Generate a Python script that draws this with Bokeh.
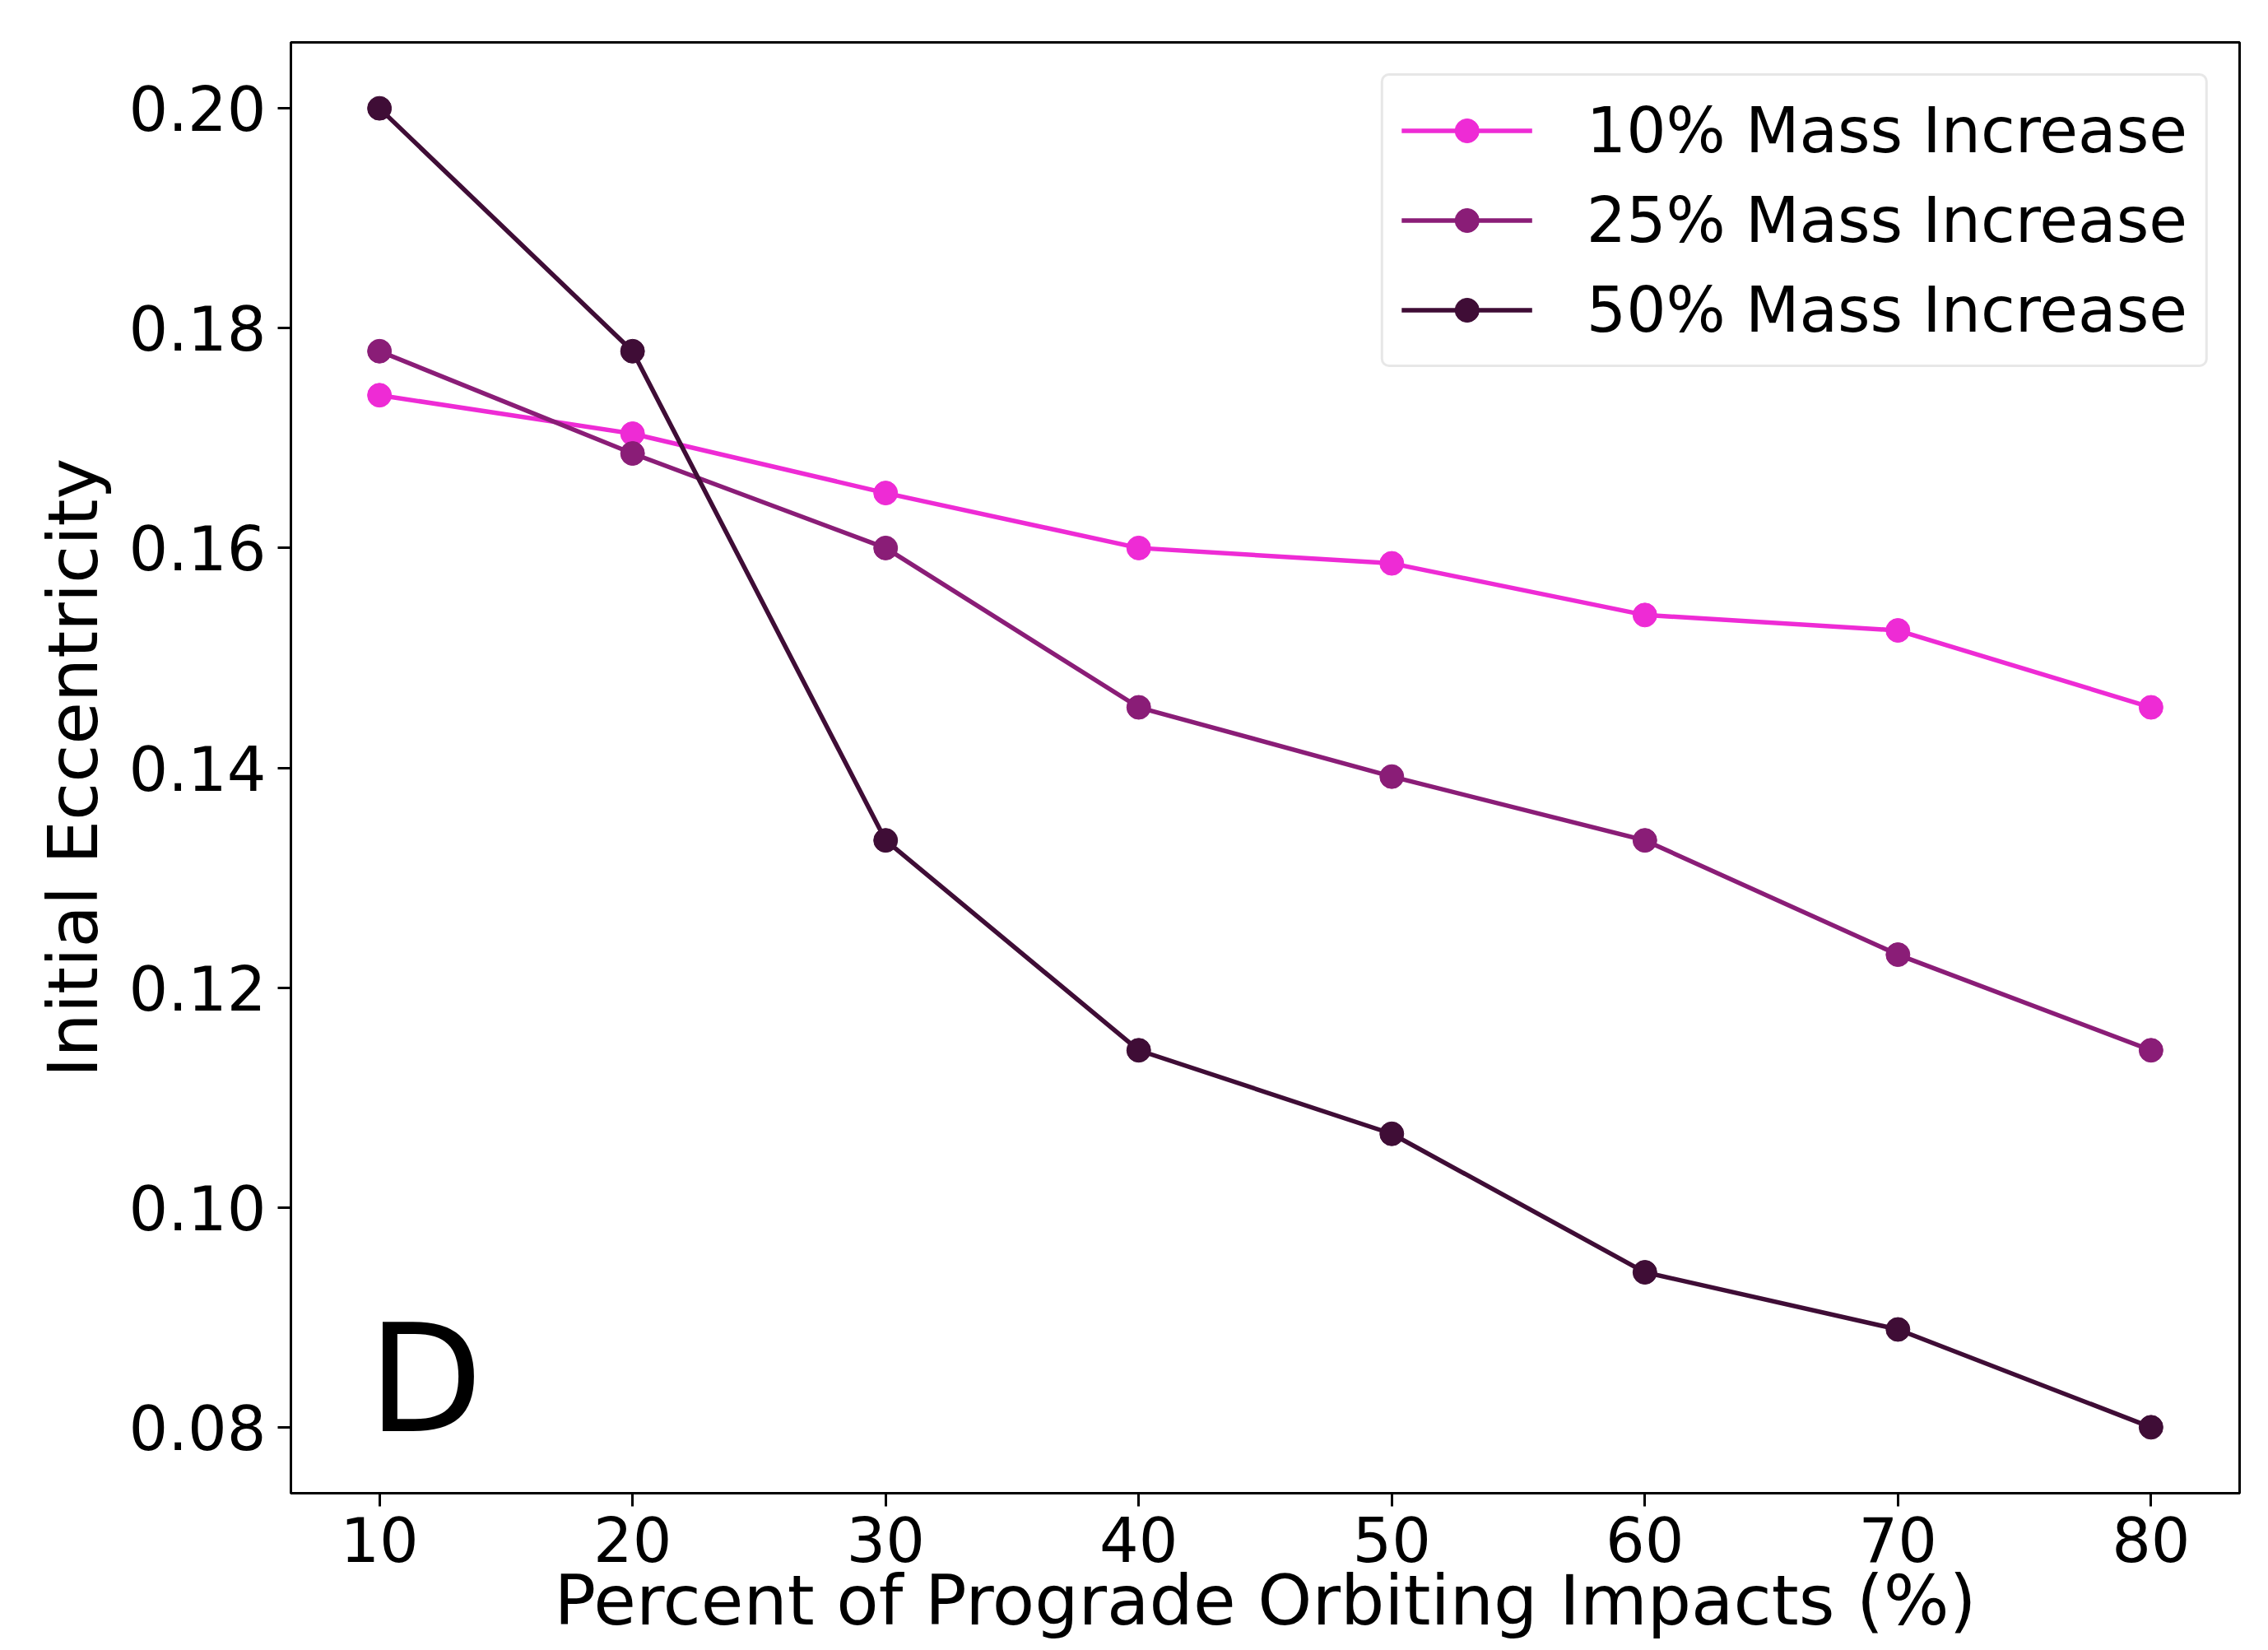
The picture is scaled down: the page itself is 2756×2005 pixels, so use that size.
from bokeh.plotting import figure
from bokeh.models import FixedTicker, PrintfTickFormatter, Label, Range1d
from bokeh.embed import file_html
from bokeh.resources import INLINE

# Data
percent_prograde = [10, 20, 30, 40, 50, 60, 70, 80]
ecc_10 = [0.1739, 0.1704, 0.1650, 0.1600, 0.1586, 0.1539, 0.1525, 0.1455]
ecc_25 = [0.1779, 0.1686, 0.1600, 0.1455, 0.1392, 0.1334, 0.1230, 0.1143]
ecc_50 = [0.2000, 0.1779, 0.1334, 0.1143, 0.1067, 0.0941, 0.0889, 0.0800]
series_labels = ["10% Mass Increase", "25% Mass Increase", "50% Mass Increase"]
series_colors = ["#ee2bd5", "#8a1d77", "#3f0d36"]
y_ticks = [0.08, 0.10, 0.12, 0.14, 0.16, 0.18, 0.20]
x_ticks = [10, 20, 30, 40, 50, 60, 70, 80]

FONT = "DejaVu Sans"

p = figure(width=2748, height=1997, output_backend="svg", toolbar_location=None,
           x_range=Range1d(6.5, 83.5), y_range=Range1d(0.074, 0.206),
           min_border_left=353, min_border_right=27, min_border_top=51, min_border_bottom=183)

for ys, lab, col in zip([ecc_10, ecc_25, ecc_50], series_labels, series_colors):
    p.line(percent_prograde, ys, line_color=col, line_width=5.5, legend_label=lab)
    p.scatter(percent_prograde, ys, size=29, fill_color=col, line_color=col, legend_label=lab)

p.xgrid.visible = False
p.ygrid.visible = False
p.background_fill_color = "white"
p.border_fill_color = "white"
p.outline_line_color = "black"
p.outline_line_width = 3

p.xaxis.ticker = FixedTicker(ticks=x_ticks)
p.yaxis.ticker = FixedTicker(ticks=y_ticks)
p.yaxis.formatter = PrintfTickFormatter(format="%.2f")
p.xaxis.axis_label = "Percent of Prograde Orbiting Impacts (%)"
p.yaxis.axis_label = "Initial Eccentricity"

for ax in (p.xaxis, p.yaxis):
    ax.axis_line_color = "black"
    ax.axis_line_width = 3
    ax.major_tick_line_width = 3
    ax.major_tick_line_color = "black"
    ax.major_tick_out = 16
    ax.major_tick_in = 0
    ax.minor_tick_line_color = None
    ax.major_label_text_font = FONT
    ax.major_label_text_font_size = "75px"
    ax.major_label_text_color = "black"
    ax.axis_label_text_font = FONT
    ax.axis_label_text_font_size = "84px"
    ax.axis_label_text_font_style = "normal"
    ax.axis_label_text_color = "black"

p.xaxis.major_label_standoff = 12
p.xaxis.axis_label_standoff = -5
p.yaxis.major_label_standoff = 14
p.yaxis.axis_label_standoff = 16

panel = Label(x=9.55, y=0.0843, text="D", text_font=FONT, text_font_size="181px",
              text_color="black", text_baseline="alphabetic")
p.add_layout(panel)

lg = p.legend[0]
lg.location = "top_right"
lg.margin = 38
lg.padding = 22
lg.spacing = 20
lg.label_text_font = FONT
lg.label_text_font_size = "76px"
lg.label_text_color = "black"
lg.glyph_width = 159
lg.glyph_height = 73
lg.label_standoff = 66
lg.border_line_color = "#d0d0d0"
lg.border_line_width = 3
lg.background_fill_color = "white"
lg.background_fill_alpha = 0.8
if "border_radius" in lg.properties():
    lg.border_radius = 10

open("out.html", "w").write(file_html(p, INLINE))
